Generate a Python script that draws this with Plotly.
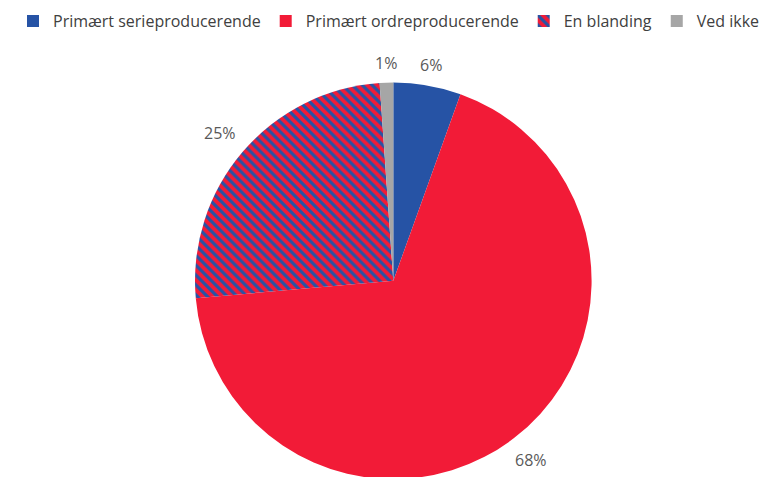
import math
import plotly.graph_objects as go

categories = ["Primært serieproducerende", "Primært ordreproducerende", "En blanding", "Ved ikke"]
shares = [5.5, 68.1, 25.3, 1.1]
share_labels = ["6%", "68%", "25%", "1%"]
colors = ["#2653A5", "#F21B37", "#F21B37", "#A6A6A6"]

W, H = 773, 477
OFF = 8  # default page margin of the html body
cx, cy, r = 393.3 - OFF, 280.8 - OFF, 198.3  # pie centre/radius in figure pixels

fig = go.Figure()
fig.add_trace(go.Pie(
    labels=categories,
    values=shares,
    sort=False,
    direction="clockwise",
    rotation=0,
    textinfo="none",
    hoverinfo="label+percent",
    marker=dict(
        colors=colors,
        line=dict(width=0),
        pattern=dict(
            shape=["", "", "\\", ""],
            fgcolor=["#2653A5"] * 4,
            bgcolor=colors,
            size=7,
            solidity=0.45,
        ),
    ),
    domain=dict(x=[(cx - r) / W, (cx + r) / W],
                y=[max(0.0, 1 - (cy + r) / H), min(1.0, 1 - (cy - r) / H)]),
))

# outside-end labels, positioned from the cumulative shares
total = sum(shares)
cum = 0.0
font_size = 16
for v, t in zip(shares, share_labels):
    mid = (cum + v / 2) / total * 2 * math.pi
    cum += v
    sx, sy = math.sin(mid), -math.cos(mid)
    w = 0.65 * font_size * len(t)
    h = 8
    d = r + 15 + (w / 2) * abs(sx) + (h / 2) * abs(sy)
    px, py = cx + d * sx, cy + d * sy
    fig.add_annotation(
        x=px / W, y=1 - py / H, xref="paper", yref="paper",
        text=t, showarrow=False, xanchor="center", yanchor="middle",
        font=dict(size=font_size, color="#595959", family="'Open Sans', sans-serif"),
    )

fig.update_layout(
    width=W, height=H,
    margin=dict(l=0, r=0, t=0, b=0, autoexpand=False),
    paper_bgcolor="white",
    plot_bgcolor="white",
    font=dict(family="'Open Sans', sans-serif", color="#404040"),
    showlegend=True,
    legend=dict(
        orientation="h",
        x=381 / W, xanchor="center",
        y=1.008, yanchor="top",
        bgcolor="rgba(0,0,0,0)",
        font=dict(size=16, color="#404040", family="'Open Sans', sans-serif"),
        itemwidth=30,
        traceorder="normal",
    ),
)

fig.write_html("out.html")
